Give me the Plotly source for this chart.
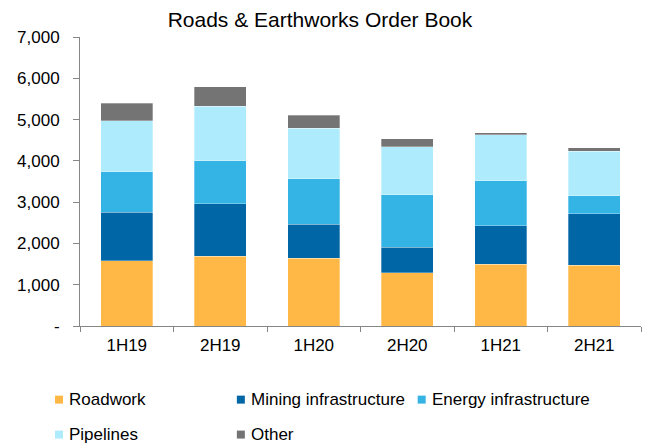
import plotly.graph_objects as go

categories = ["1H19", "2H19", "1H20", "2H20", "1H21", "2H21"]
roadwork = [1580, 1685, 1645, 1285, 1500, 1475]
mining = [1180, 1275, 815, 620, 930, 1245]
energy = [975, 1040, 1105, 1270, 1090, 430]
pipelines = [1235, 1325, 1220, 1170, 1115, 1080]
other = [430, 465, 325, 195, 40, 90]

series_names = ["Roadwork", "Mining infrastructure", "Energy infrastructure", "Pipelines", "Other"]
series_values = [roadwork, mining, energy, pipelines, other]
colors = ["#FFB845", "#0066A6", "#33B4E5", "#AEEBFD", "#747474"]

y_tickvals = [0, 1000, 2000, 3000, 4000, 5000, 6000, 7000]
y_ticktext = ["-", "1,000", "2,000", "3,000", "4,000", "5,000", "6,000", "7,000"]

FONT = "Liberation Sans, Arial, sans-serif"

fig = go.Figure()
for name, vals, col in zip(series_names, series_values, colors):
    fig.add_trace(go.Bar(x=categories, y=vals, name=name,
                         marker=dict(color=col, line=dict(color="rgba(255,255,255,0.6)", width=0.5)),
                         showlegend=False))

# plot area in pixels
W, H = 649, 445
L, R, T, B = 80, 7.5, 37, 118.7
pw = W - L - R
ph = H - T - B

def px2x(px):
    return (px - L) / pw

def py2y(py):
    return (H - B - py) / ph

# custom legend (positions in pixels)
legend_pos = [(55, 400), (237, 400), (418, 400), (55, 435), (237, 435)]
shapes = []
annotations = []
for (sx, sy), name, col in zip(legend_pos, series_names, colors):
    shapes.append(dict(type="rect", xref="paper", yref="paper",
                       x0=px2x(sx), x1=px2x(sx + 8), y0=py2y(sy + 4), y1=py2y(sy - 4),
                       fillcolor=col, line=dict(width=0)))
    annotations.append(dict(xref="paper", yref="paper", x=px2x(sx + 12), y=py2y(sy),
                            text=name, showarrow=False, xanchor="left", yanchor="middle",
                            font=dict(family=FONT, size=17, color="#000000")))

fig.update_layout(
    width=W, height=H,
    margin=dict(l=L, r=R, t=T, b=B, autoexpand=False),
    paper_bgcolor="white", plot_bgcolor="white",
    barmode="stack", bargap=0.444,
    font=dict(family=FONT, size=17, color="#000000"),
    title=dict(text="Roads & Earthworks Order Book", x=0.493, xanchor="center",
               yref="container", y=1 - 19.5 / H, yanchor="middle",
               font=dict(family=FONT, size=21, color="#000000")),
    xaxis=dict(showline=True, linecolor="#868686", linewidth=1, ticks="outside",
               tickson="boundaries", ticklen=5, tickcolor="#868686", showgrid=False,
               tickfont=dict(size=17), ticklabelstandoff=4),
    yaxis=dict(range=[0, 7000], tickvals=y_tickvals, ticktext=y_ticktext,
               showline=True, linecolor="#868686", linewidth=1, ticks="outside",
               ticklen=6, tickcolor="#868686", showgrid=False, zeroline=False,
               tickfont=dict(size=17), ticklabelstandoff=10),
    shapes=shapes, annotations=annotations,
)

fig.write_html("out.html")
